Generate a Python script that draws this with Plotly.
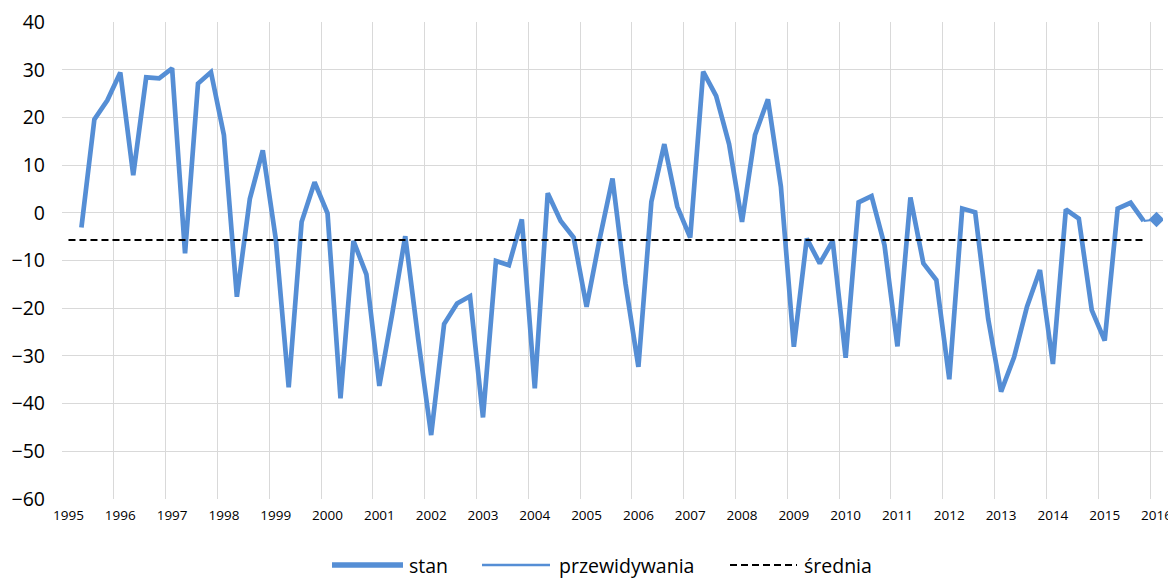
import plotly.graph_objects as go

years = list(range(1995, 2017))
quarters = ["Q1", "Q2", "Q3", "Q4"]
categories = [f"{y} {q}" for y in years[:-1] for q in quarters] + ["2016 Q1"]

# stan: 1995 Q2 .. 2015 Q4
stan = [None,
        -3.1, 19.6, 23.6,
        29.4, 7.9, 28.4, 28.2,
        30.3, -8.5, 27.1, 29.5,
        16.3, -17.6, 2.9, 13.1,
        -5.4, -36.6, -1.9, 6.4,
        -0.1, -38.9, -5.9, -12.9,
        -36.3, -21.1, -4.9, -26.5,
        -46.6, -23.3, -19.0, -17.5,
        -42.9, -10.1, -11.0, -1.4,
        -36.8, 4.1, -1.7, -5.2,
        -19.7, -5.6, 7.2, -14.8,
        -32.3, 2.3, 14.4, 1.3,
        -5.2, 29.6, 24.5, 14.4,
        -1.9, 16.3, 23.8, 5.5,
        -28.1, -5.4, -10.6, -5.9,
        -30.4, 2.2, 3.5, -6.8,
        -28.0, 3.2, -10.6, -14.1,
        -34.9, 0.9, 0.1, -22.2,
        -37.5, -30.3, -19.7, -12.0,
        -31.7, 0.7, -1.2, -20.4,
        -26.8, 0.9, 2.1, -1.7]

prog_x = ["2015 Q4", "2016 Q1"]
przewidywania = [-1.7, -1.4]

srednia_x = ["1995 Q1", "2015 Q4"]
srednia = [-5.7, -5.7]

tick_labels = [str(y) for y in years]
tick_vals = [f"{y} Q1" for y in years]

series_names = ["stan", "przewidywania", "średnia"]

blue = "#558ED5"
font = "Open Sans"
avg_dash = "7px,4px"

fig = go.Figure()
fig.add_trace(go.Scatter(x=categories[:len(stan)], y=stan, name=series_names[0], mode="lines",
                         line=dict(color=blue, width=4.7), connectgaps=False, showlegend=False))
fig.add_trace(go.Scatter(x=prog_x, y=przewidywania, name=series_names[1], mode="lines",
                         line=dict(color=blue, width=2), showlegend=False))
fig.add_trace(go.Scatter(x=prog_x[-1:], y=przewidywania[-1:], mode="markers", showlegend=False,
                         marker=dict(symbol="diamond", size=12, color=blue)))
fig.add_trace(go.Scatter(x=srednia_x, y=srednia, name=series_names[2], mode="lines",
                         line=dict(color="black", width=2.2, dash=avg_dash), showlegend=False))

# custom legend (plot area spans 1101 px wide, 477 px tall in figure coordinates)
PL, PW, PB, PH = 54, 1101, 491, 477
def px(v):
    return (v - PL) / PW
leg_y = (PB - 557) / PH
leg_items = [
    (324, 395, 400, dict(color=blue, width=5.5)),
    (474, 542, 550, dict(color=blue, width=2.5)),
    (722, 789, 795, dict(color="black", width=2.2, dash=avg_dash)),
]
for name, (x0, x1, tx, ln) in zip(series_names, leg_items):
    fig.add_shape(type="line", xref="paper", yref="paper", x0=px(x0), x1=px(x1),
                  y0=leg_y, y1=leg_y, line=ln)
    fig.add_annotation(xref="paper", yref="paper", x=px(tx), y=leg_y, text=name,
                       showarrow=False, xanchor="left", yanchor="middle", borderpad=0,
                       font=dict(size=19.5, family=font, color="black"))

fig.update_layout(
    width=1168, height=571,
    margin=dict(l=PL, r=13, t=14, b=80, autoexpand=False),
    plot_bgcolor="white", paper_bgcolor="white",
    font=dict(family=font, color="black"),
    showlegend=False,
    xaxis=dict(type="category", categoryorder="array", categoryarray=categories,
               range=[-0.5, len(categories) - 0.5], automargin=False,
               tickmode="array", tickvals=tick_vals, ticktext=tick_labels, tickangle=0,
               tickson="boundaries", showgrid=True, gridcolor="#D9D9D9", gridwidth=1.3,
               ticks="", tickfont=dict(size=13.5), showline=False, zeroline=False,
               ticklabelstandoff=6, ticklabeloverflow="allow"),
    yaxis=dict(range=[-60, 40], dtick=10, tick0=0, showgrid=True, gridcolor="#D9D9D9",
               gridwidth=1.3, zeroline=False, showline=False, ticks="", automargin=False,
               tickfont=dict(size=19.5), ticklabelstandoff=16, ticklabeloverflow="allow"),
)

fig.write_html("out.html")
